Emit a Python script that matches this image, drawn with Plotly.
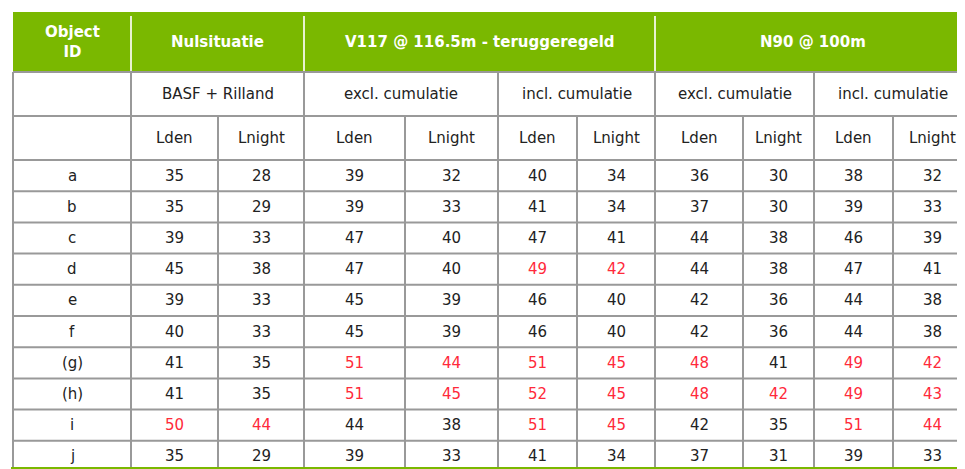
import plotly.graph_objects as go

# table content
object_ids = ['a', 'b', 'c', 'd', 'e', 'f', '(g)', '(h)', 'i', 'j']
groups = ['Nulsituatie', 'V117 @ 116.5m - teruggeregeld', 'N90 @ 100m']
subgroups = ['BASF + Rilland', 'excl. cumulatie', 'incl. cumulatie', 'excl. cumulatie', 'incl. cumulatie']
metrics = ['Lden', 'Lnight'] * 5

values = [
    [35, 28, 39, 32, 40, 34, 36, 30, 38, 32],
    [35, 29, 39, 33, 41, 34, 37, 30, 39, 33],
    [39, 33, 47, 40, 47, 41, 44, 38, 46, 39],
    [45, 38, 47, 40, 49, 42, 44, 38, 47, 41],
    [39, 33, 45, 39, 46, 40, 42, 36, 44, 38],
    [40, 33, 45, 39, 46, 40, 42, 36, 44, 38],
    [41, 35, 51, 44, 51, 45, 48, 41, 49, 42],
    [41, 35, 51, 45, 52, 45, 48, 42, 49, 43],
    [50, 44, 44, 38, 51, 45, 42, 35, 51, 44],
    [35, 29, 39, 33, 41, 34, 37, 31, 39, 33],
]
# 1 = exceeds limit (shown red)
flags = [
    [0, 0, 0, 0, 0, 0, 0, 0, 0, 0],
    [0, 0, 0, 0, 0, 0, 0, 0, 0, 0],
    [0, 0, 0, 0, 0, 0, 0, 0, 0, 0],
    [0, 0, 0, 0, 1, 1, 0, 0, 0, 0],
    [0, 0, 0, 0, 0, 0, 0, 0, 0, 0],
    [0, 0, 0, 0, 0, 0, 0, 0, 0, 0],
    [0, 0, 1, 1, 1, 1, 1, 0, 1, 1],
    [0, 0, 1, 1, 1, 1, 1, 1, 1, 1],
    [1, 1, 0, 0, 1, 1, 0, 0, 1, 1],
    [0, 0, 0, 0, 0, 0, 0, 0, 0, 0],
]

GREEN = '#7ab800'
RED = '#ff2a3a'
GRID = '#999999'
TXT = '#222222'
FONT = 'DejaVu Sans'

# layout geometry (pixels)
xs = [5, 123, 210, 296, 397, 490, 569, 647, 735, 806, 885, 963]
y_head = [4, 64, 108, 152]
row_h = 31.2
y_rows = [y_head[-1] + i * row_h for i in range(len(object_ids) + 1)]
y_end = 459

shapes = []
ann = []

def line(x0, y0, x1, y1, color=GRID, w=2):
    shapes.append(dict(type='line', x0=x0, y0=y0, x1=x1, y1=y1,
                       line=dict(color=color, width=w), layer='above'))

def text(x, y, s, color=TXT, size=15, bold=False):
    ann.append(dict(x=x, y=y, text='<b>%s</b>' % s if bold else s, showarrow=False,
                    font=dict(family=FONT, size=size, color=color),
                    xanchor='center', yanchor='middle'))

# green header band
shapes.append(dict(type='rect', x0=xs[0], x1=xs[-1], y0=y_head[0], y1=y_head[1],
                   fillcolor=GREEN, line=dict(width=0), layer='below'))
# bottom green bar
shapes.append(dict(type='rect', x0=xs[0] - 2, x1=xs[-1] + 2, y0=y_end, y1=y_end + 7,
                   fillcolor=GREEN, line=dict(width=0), layer='above'))

gx = [xs[0], xs[1], xs[3], xs[7], xs[-1]]
# header grid
for x in [xs[1], xs[3], xs[7]]:
    line(x, y_head[0] + 4, x, y_head[1], color='#e8f2d0')
for x in gx:
    line(x, y_head[1], x, y_end)
for x in [xs[5], xs[9]]:
    line(x, y_head[1], x, y_end)
for x in [xs[2], xs[4], xs[6], xs[8], xs[10]]:
    line(x, y_head[2], x, y_end)
for y in y_head[1:] + y_rows[1:-1]:
    line(xs[0], y, xs[-1], y)

text((xs[0] + xs[1]) / 2, (y_head[0] + y_head[1]) / 2, 'Object<br>ID', color='white', size=15, bold=True)
for i, g in enumerate(groups):
    text((gx[i + 1] + gx[i + 2]) / 2, (y_head[0] + y_head[1]) / 2, g, color='white', size=15, bold=True)
for i, s in enumerate(subgroups):
    text((xs[1 + 2 * i] + xs[3 + 2 * i]) / 2, (y_head[1] + y_head[2]) / 2, s)
for i, m in enumerate(metrics):
    text((xs[1 + i] + xs[2 + i]) / 2, (y_head[2] + y_head[3]) / 2, m)

for r, oid in enumerate(object_ids):
    yc = (y_rows[r] + y_rows[r + 1]) / 2
    text((xs[0] + xs[1]) / 2, yc, oid)
    for c, v in enumerate(values[r]):
        text((xs[1 + c] + xs[2 + c]) / 2, yc, str(v), color=RED if flags[r][c] else TXT)

fig = go.Figure()
fig.update_layout(width=965, height=469, margin=dict(l=0, r=0, t=0, b=0),
                  paper_bgcolor='white', plot_bgcolor='white',
                  shapes=shapes, annotations=ann, showlegend=False)
fig.update_xaxes(range=[0, 965], visible=False)
fig.update_yaxes(range=[469, 0], visible=False)
fig.write_html("out.html")
